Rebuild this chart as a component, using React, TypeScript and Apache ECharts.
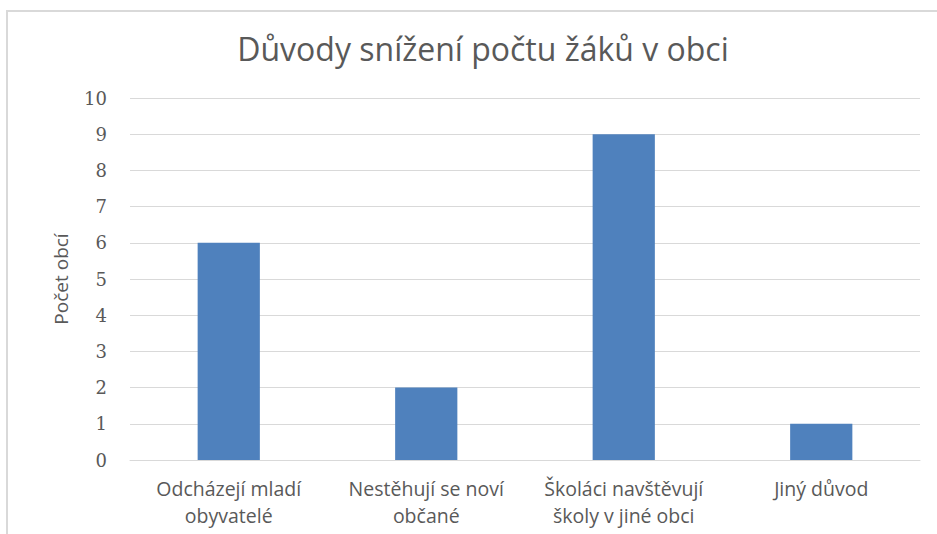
import React, { useEffect, useRef } from "react";
import * as echarts from "echarts";

const categories = [
  "Odcházejí mladí\nobyvatelé",
  "Nestěhují se noví\nobčané",
  "Školáci navštěvují\nškoly v jiné obci",
  "Jiný důvod",
];
const values = [6, 2, 9, 1];
const titleText = "Důvody snížení počtu žáků v obci";
const yAxisName = "Počet obcí";

const sansFont = "'Open Sans', sans-serif";

export default function App() {
  const ref = useRef<HTMLDivElement>(null);
  useEffect(() => {
    if (!ref.current) return;
    const chart = echarts.init(ref.current, null, { renderer: "svg" });
    chart.setOption({
      animation: false,
      backgroundColor: "#ffffff",
      title: {
        text: titleText,
        left: 478,
        textAlign: "center",
        top: 27,
        textStyle: { fontFamily: sansFont, fontSize: 32, fontWeight: "normal", color: "#595959" },
      },
      grid: { left: 130, right: 17, top: 98, bottom: 74 },
      xAxis: {
        type: "category",
        data: categories,
        axisLine: { lineStyle: { color: "#d9d9d9", width: 1 } },
        axisTick: { show: false },
        axisLabel: {
          fontFamily: sansFont,
          fontSize: 19.5,
          color: "#595959",
          margin: 15,
          lineHeight: 27,
          interval: 0,
        },
      },
      yAxis: {
        type: "value",
        min: 0,
        max: 10,
        interval: 1,
        name: yAxisName,
        nameLocation: "middle",
        nameGap: 60,
        nameTextStyle: { fontFamily: sansFont, fontSize: 19, color: "#595959" },
        axisLine: { show: false },
        axisTick: { show: false },
        axisLabel: {
          fontFamily: "'DejaVu Serif', serif",
          fontSize: 18,
          color: "#595959",
          margin: 23,
        },
        splitLine: { lineStyle: { color: "#d9d9d9", width: 1 } },
      },
      series: [
        {
          type: "bar",
          data: values,
          barWidth: "31.5%",
          itemStyle: { color: "#4f81bd" },
        },
      ],
      graphic: [
        {
          type: "polyline",
          shape: { points: [[7, 534], [7, 11], [937, 11]] },
          style: { stroke: "#d9d9d9", lineWidth: 2, fill: null },
          silent: true,
        },
      ],
    });
    return () => chart.dispose();
  }, []);
  return (
    <div
      ref={ref}
      style={{ position: "fixed", left: 0, top: 0, width: 937, height: 534 }}
    />
  );
}
